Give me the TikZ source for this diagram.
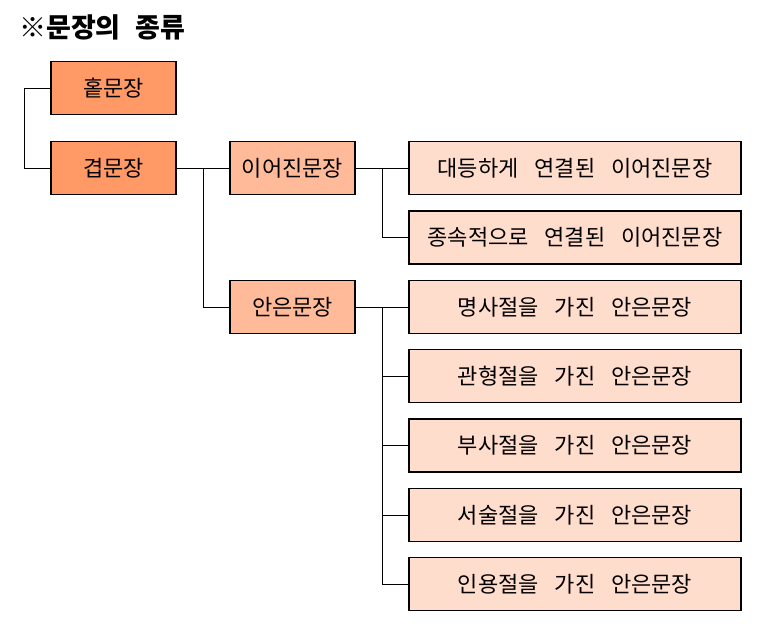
\documentclass[tikz,border=0pt]{standalone}
\usepackage{fontspec}
\setmainfont{Noto Sans CJK KR}
\definecolor{cA}{HTML}{FF9966}
\definecolor{cB}{HTML}{FFBB99}
\definecolor{cC}{HTML}{FFDDCC}
\newcommand\wsp{\hspace{0.72em}}
\tikzset{
  box/.style={draw, line width=1.1pt, inner sep=0pt, minimum height=53pt,
    font=\fontsize{22}{22}\selectfont},
  lvA/.style={box, fill=cA, minimum width=125pt},
  lvB/.style={box, fill=cB, minimum width=125pt},
  leaf/.style={box, fill=cC, minimum width=332pt},
  conn/.style={line width=0.9pt}
}
\begin{document}
\begin{tikzpicture}[x=1pt,y=-1pt]
\useasboundingbox (0,0) rectangle (772,643);
\node[font=\fontsize{27}{28}\selectfont\bfseries, anchor=west, inner sep=0pt] (title) at (19,27) {※문장의\hspace{0.55em}종류};
\node[lvA] (hol) at (113.5,88) {홑문장};
\node[lvA] (gyeop) at (113.5,168) {겹문장};
\node[lvB] (ieo) at (292.5,168) {이어진문장};
\node[lvB] (aneun) at (292.5,307) {안은문장};
\node[leaf] (d1) at (575,168) {대등하게\wsp 연결된\wsp 이어진문장};
\node[leaf] (d2) at (575,237.5) {종속적으로\wsp 연결된\wsp 이어진문장};
\node[leaf] (a1) at (575,307) {명사절을\wsp 가진\wsp 안은문장};
\node[leaf] (a2) at (575,376) {관형절을\wsp 가진\wsp 안은문장};
\node[leaf] (a3) at (575,445.5) {부사절을\wsp 가진\wsp 안은문장};
\node[leaf] (a4) at (575,515) {서술절을\wsp 가진\wsp 안은문장};
\node[leaf] (a5) at (575,584) {인용절을\wsp 가진\wsp 안은문장};
\coordinate (L) at (24,0);
\coordinate (M1) at (203,0);
\coordinate (M2) at (382,0);
\draw[conn] (hol.west) -- (hol.west -| L) |- (gyeop.west);
\draw[conn] (gyeop.east) -- (ieo.west);
\draw[conn] (gyeop.east -| M1) |- (aneun.west);
\draw[conn] (ieo.east) -- (d1.west);
\draw[conn] (ieo.east -| M2) |- (d2.west);
\draw[conn] (aneun.east) -- (a1.west);
\draw[conn] (aneun.east -| M2) |- (a5.west);
\draw[conn] (a2.west -| M2) -- (a2.west);
\draw[conn] (a3.west -| M2) -- (a3.west);
\draw[conn] (a4.west -| M2) -- (a4.west);
\end{tikzpicture}
\end{document}
